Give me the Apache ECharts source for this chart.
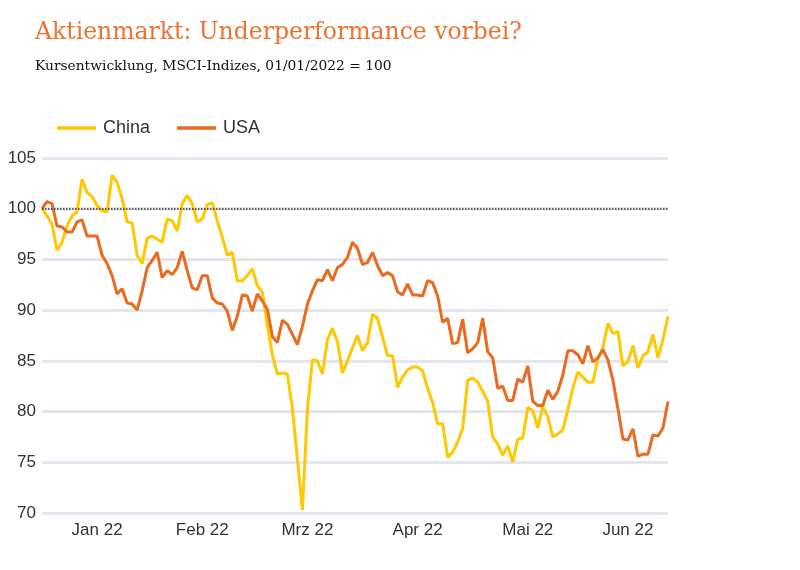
<!DOCTYPE html>
<html>
<head>
<meta charset="utf-8">
<script src="https://cdn.jsdelivr.net/npm/echarts@6/dist/echarts.min.js"></script>
<style>
  html, body { margin: 0; padding: 0; background: #fff; }
  #chart { width: 800px; height: 570px; }
</style>
</head>
<body>
<div id="chart"></div>
<script>
// Monatsnamen der x-Achse (Startwert 31.12.2021 = 100)
var months = ['Dez 21', 'Jan 22', 'Feb 22', 'Mrz 22', 'Apr 22', 'Mai 22', 'Jun 22'];

// MSCI China, Handelstage je Monat
var chinaDez = [100];
var chinaJan = [99.3, 98.5, 95.9, 96.7, 98.3, 99.3, 99.7, 102.9, 101.6, 101.2, 100.3, 99.8, 99.7, 103.3, 102.6, 101.0, 98.7, 98.6, 95.4, 94.6, 97.1];
var chinaFeb = [97.3, 97.0, 96.7, 99.0, 98.8, 97.8, 100.5, 101.3, 100.5, 98.7, 99.0, 100.4, 100.6, 98.8, 97.2, 95.4, 95.7, 92.9, 92.9, 93.4];
var chinaMrz = [94.1, 92.4, 91.8, 88.5, 85.6, 83.7, 83.8, 83.7, 80.3, 75.3, 70.3, 80.2, 85.1, 85.0, 83.7, 87.1, 88.2, 86.9, 83.8, 85.0, 86.3, 87.5, 86.0];
var chinaApr = [86.8, 89.6, 89.2, 87.4, 85.5, 85.5, 82.4, 83.4, 84.1, 84.4, 84.4, 84.0, 82.3, 80.9, 78.8, 78.8, 75.5, 76.0, 77.0, 78.3, 83.1];
var chinaMai = [83.3, 82.9, 82.0, 81.0, 77.5, 76.8, 75.7, 76.6, 75.0, 77.3, 77.4, 80.4, 80.1, 78.4, 80.5, 79.5, 77.5, 77.8, 78.2, 80.2, 82.3, 83.9];
var chinaJun = [83.4, 82.9, 82.9, 85.2, 86.3, 88.7, 87.7, 87.9, 84.5, 84.9, 86.5, 84.3, 85.5, 85.9, 87.6, 85.3, 87.1, 89.4];

// MSCI USA
var usaDez = [100];
var usaJan = [100.7, 100.5, 98.3, 98.2, 97.7, 97.7, 98.7, 98.9, 97.3, 97.3, 97.3, 95.4, 94.6, 93.4, 91.6, 92.1, 90.7, 90.6, 90.0, 91.9, 94.2];
var usaFeb = [94.9, 95.7, 93.2, 93.9, 93.5, 94.2, 95.8, 93.9, 92.2, 92.0, 93.4, 93.4, 91.2, 90.7, 90.6, 89.9, 88.0, 89.4, 91.5, 91.4];
var usaMrz = [89.9, 91.6, 90.9, 90.1, 87.4, 86.8, 89.0, 88.6, 87.6, 86.6, 88.4, 90.6, 91.9, 93.0, 92.9, 94.0, 92.9, 94.2, 94.5, 95.2, 96.7, 96.1, 94.5];
var usaApr = [94.7, 95.7, 94.4, 93.4, 93.7, 93.4, 91.8, 91.5, 92.6, 91.5, 91.5, 91.4, 92.9, 92.7, 91.4, 88.8, 89.2, 86.7, 86.8, 89.1, 85.8];
var usaMai = [86.2, 86.8, 89.2, 85.9, 85.3, 82.3, 82.5, 81.1, 81.1, 83.2, 82.9, 84.5, 81.0, 80.6, 80.6, 82.1, 81.2, 82.0, 83.6, 86.0, 86.0, 85.6];
var usaJun = [84.7, 86.5, 84.9, 85.3, 86.1, 85.1, 83.1, 80.3, 77.3, 77.2, 78.3, 75.6, 75.8, 75.8, 77.7, 77.6, 78.4, 81.0];

var yTicks = [70, 75, 80, 85, 90, 95, 100, 105];

var chinaMonths = [chinaDez, chinaJan, chinaFeb, chinaMrz, chinaApr, chinaMai, chinaJun];
var usaMonths = [usaDez, usaJan, usaFeb, usaMrz, usaApr, usaMai, usaJun];

// Kategorien aufbauen, Monatslabel in der Monatsmitte
var categories = [], china = [], usa = [], labelAt = {};
for (var m = 0; m < months.length; m++) {
    var start = categories.length;
    for (var k = 0; k < chinaMonths[m].length; k++) {
        categories.push(months[m] + '|' + (k + 1));
        china.push(chinaMonths[m][k]);
        usa.push(usaMonths[m][k]);
    }
    if (m > 0) labelAt[Math.ceil((start + categories.length - 1) / 2)] = true;
}

// schmale Schrift nehmen, falls vorhanden
function hasFont(name) {
    var ctx = document.createElement('canvas').getContext('2d');
    ctx.font = '20px monospace';
    var w0 = ctx.measureText('China USA 105').width;
    ctx.font = '20px "' + name + '", monospace';
    return ctx.measureText('China USA 105').width !== w0;
}
var narrow = hasFont('Liberation Sans Narrow');
var sans = narrow ? 'Liberation Sans Narrow' : 'Liberation Sans';
var fs = narrow ? 20 : 17;

var chart = echarts.init(document.getElementById('chart'), null, {renderer: 'canvas'});

chart.setOption({
    animation: false,
    backgroundColor: '#fff',
    title: [{
        text: 'Aktienmarkt: Underperformance vorbei?',
        left: 30, top: 16,
        textStyle: {fontFamily: 'DejaVu Serif', fontWeight: 'normal', fontSize: 23.5, color: '#EC7430'}
    }, {
        text: 'Kursentwicklung, MSCI-Indizes, 01/01/2022 = 100',
        left: 30, top: 54,
        textStyle: {fontFamily: 'DejaVu Serif', fontWeight: 'normal', fontSize: 13.8, color: '#111'}
    }],
    legend: {
        left: 52, top: 114,
        icon: 'rect', itemWidth: 39, itemHeight: 3.5, itemGap: 27,
        textStyle: {fontFamily: sans, fontSize: fs + 1, color: '#333', padding: [0, 0, 0, 2]},
        data: ['China', 'USA']
    },
    grid: {left: 42, right: 132, top: 158, bottom: 57},
    xAxis: {
        type: 'category',
        data: categories,
        boundaryGap: false,
        axisLine: {show: false},
        axisTick: {show: false},
        axisLabel: {
            interval: function (i) { return !!labelAt[i]; },
            formatter: function (v) { return v.split('|')[0]; },
            fontFamily: sans, fontSize: fs, color: '#333', margin: 9
        }
    },
    yAxis: {
        type: 'value',
        min: yTicks[0], max: yTicks[yTicks.length - 1], interval: 5,
        axisLine: {show: false},
        axisTick: {show: false},
        axisLabel: {fontFamily: sans, fontSize: fs, color: '#333', margin: 6},
        splitLine: {lineStyle: {color: '#e3e6ef', width: 3}}
    },
    series: [{
        name: 'China', type: 'line', data: china,
        symbol: 'none', color: '#FFC800',
        lineStyle: {width: 3, color: '#FFC800'},
        markLine: {
            silent: true, symbol: 'none', label: {show: false},
            lineStyle: {type: 'dotted', color: '#333', width: 1.5},
            data: [{yAxis: 100}]
        }
    }, {
        name: 'USA', type: 'line', data: usa,
        symbol: 'none', color: '#EA6A20',
        lineStyle: {width: 3, color: '#EA6A20'}
    }]
});
</script>
</body>
</html>
